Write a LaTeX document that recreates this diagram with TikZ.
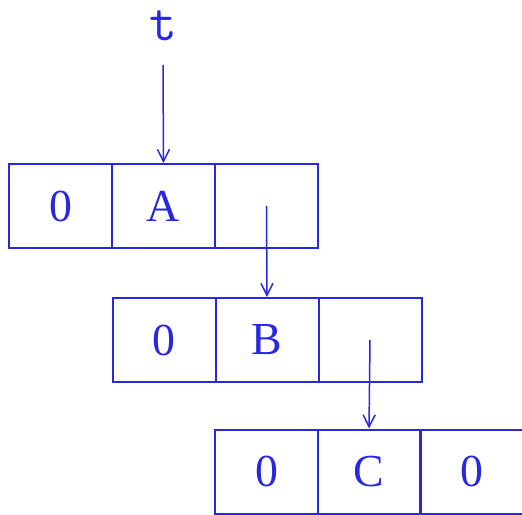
\documentclass[tikz,border=0pt]{standalone}
\usepackage{fontspec}
\setmainfont{Liberation Serif}
\usetikzlibrary{arrows.meta}
\definecolor{ink}{RGB}{40,40,225}
\begin{document}
\begin{tikzpicture}[x=1bp,y=-1bp,
  cell/.style={draw=ink, line width=2bp, minimum width=103bp, minimum height=84bp, inner sep=0pt, text=ink, font=\fontsize{46}{50}\selectfont},
  ptr/.style={draw=ink, line width=1.5bp, -{Straight Barb[length=12bp,width=12bp,line width=1.5bp]}}]
\useasboundingbox (0,0) rectangle (522,515);
% row 1
\node[cell] (a0) at (60.5,206) {0};
\node[cell] (a1) at (163.5,206) {A};
\node[cell] (a2) at (266.5,206) {};
% row 2
\node[cell] (b0) at (164,340) {0};
\node[cell] (b1) at (267,340) {B};
\node[cell] (b2) at (370,340) {};
% row 3
\node[cell] (c0) at (266.5,471.5) {0};
\node[cell] (c1) at (369,471.5) {C};
\node[cell] (c2) at (471.5,471.5) {0};
% pointer t
\node[text=ink, font=\ttfamily\fontsize{54}{54}\selectfont, inner sep=0pt] (t) at (163,26) {t};
\coordinate (tstart) at (163,65);
\draw[ptr] (tstart) -- (a1.north);
\draw[ptr] (a2.center) -- (b1.north);
\draw[ptr] (b2.center) -- (c1.north);
\end{tikzpicture}
\end{document}
